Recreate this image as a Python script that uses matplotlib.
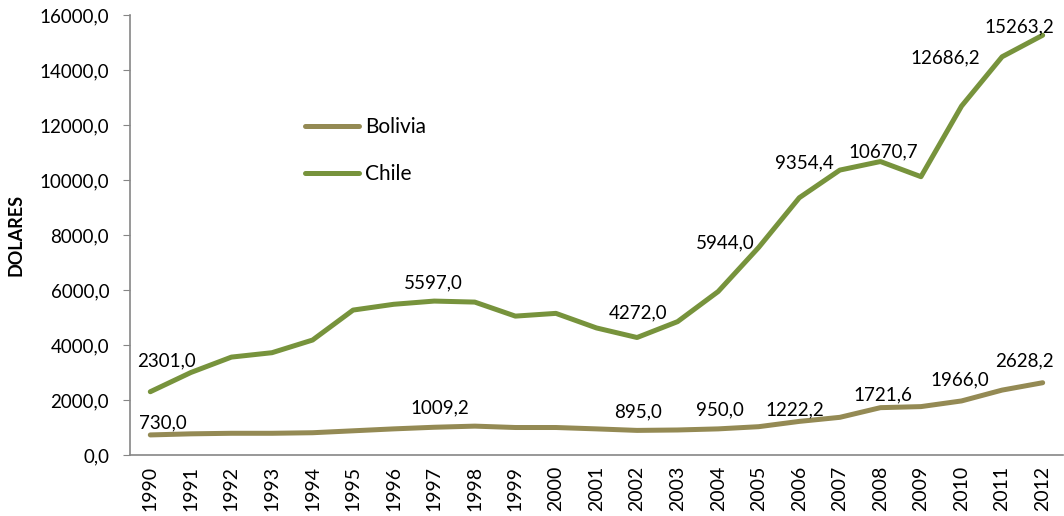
import matplotlib
matplotlib.use("Agg")
import matplotlib.pyplot as plt
from matplotlib.ticker import FuncFormatter

years = list(range(1990, 2013))
bolivia = [730.0, 770, 790, 790, 810, 880, 950, 1009.2, 1050, 1000, 1000, 950,
           895.0, 910, 950.0, 1030, 1222.2, 1370, 1721.6, 1760, 1966.0, 2360, 2628.2]
chile = [2301.0, 3000, 3560, 3720, 4180, 5270, 5480, 5597.0, 5560, 5050, 5150, 4620,
         4272.0, 4850, 5944.0, 7550, 9354.4, 10360, 10670.7, 10120, 12686.2, 14480, 15263.2]

# years that carry a value label, with the label offset in points (dx, dy)
bolivia_labels = {1990: (9, 9), 1997: (4, 14), 2002: (1, 13), 2004: (1, 14),
                  2006: (-3, 8), 2008: (2, 9), 2010: (-1, 15), 2012: (-13, 16)}
chile_labels = {1990: (12, 22), 1997: (-1, 13), 2002: (1, 18), 2004: (5, 35),
                2006: (4, 25), 2008: (2, 7), 2010: (-12, 35), 2012: (-17, 6)}

bolivia_color = "#948A54"
chile_color = "#77933C"
axis_color = "#868686"

plt.rcParams["font.family"] = ["Lato", "DejaVu Sans"]

fig = plt.figure(figsize=(10.64, 5.16), dpi=100)
ax = fig.add_axes([0.1222, 0.1182, 0.8768, 0.8528])

ax.plot(years, bolivia, color=bolivia_color, linewidth=3.6, label="Bolivia",
        solid_capstyle="round", solid_joinstyle="round")
ax.plot(years, chile, color=chile_color, linewidth=3.6, label="Chile",
        solid_capstyle="round", solid_joinstyle="round")


def fmt(v):
    return f"{v:.1f}".replace(".", ",")


for series, labels in ((bolivia, bolivia_labels), (chile, chile_labels)):
    for yr, (dx, dy) in labels.items():
        v = series[years.index(yr)]
        ax.annotate(fmt(v), (yr, v), xytext=(dx, dy), textcoords="offset points",
                    ha="center", va="center", fontsize=13.5, color="black")

ax.set_xlim(1989.5, 2012.5)
ax.set_ylim(0, 16000)
ax.set_xticks(years)
ax.set_xticklabels([str(y) for y in years], rotation=90, fontsize=14)
ax.set_yticks(range(0, 16001, 2000))
ax.yaxis.set_major_formatter(FuncFormatter(lambda v, p: fmt(v)))
ax.tick_params(axis="y", labelsize=13.5, length=5, color=axis_color, pad=10)
ax.tick_params(axis="x", length=0, pad=8)

for side in ("top", "right"):
    ax.spines[side].set_visible(False)
for side in ("left", "bottom"):
    ax.spines[side].set_color(axis_color)
    ax.spines[side].set_linewidth(1.2)

ax.set_ylabel("DOLARES", fontsize=13, fontweight="bold", labelpad=11)

leg = ax.legend(loc="upper left", bbox_to_anchor=(305 / 1064, 1 - 117 / 516),
                bbox_transform=fig.transFigure, frameon=False, fontsize=15,
                borderpad=0, borderaxespad=0,
                handlelength=2.6, handletextpad=0.3, labelspacing=1.3)

fig.savefig("out.png", dpi=100)
